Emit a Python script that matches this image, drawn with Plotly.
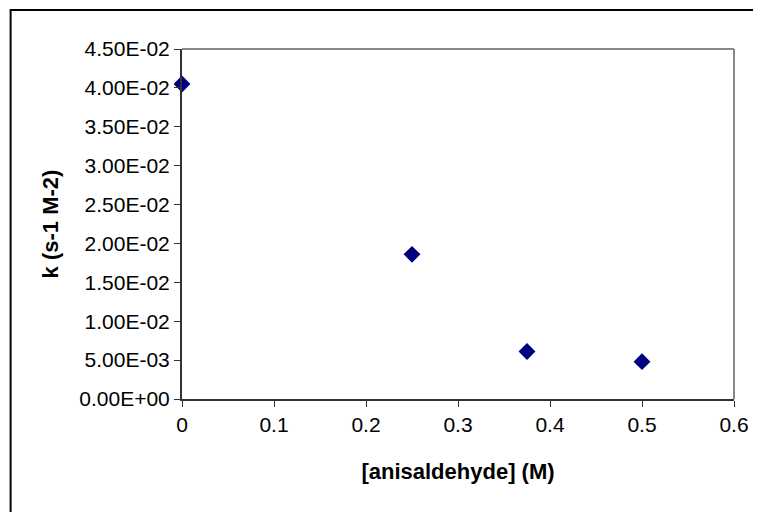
import plotly.graph_objects as go

# anisaldehyde concentration (M) vs rate constant k
conc = [0, 0.25, 0.375, 0.5]
k_vals = [0.0405, 0.0186, 0.0061, 0.0048]

y_ticks = [0, 0.005, 0.01, 0.015, 0.02, 0.025, 0.03, 0.035, 0.04, 0.045]
y_labels = ["%.2E" % v for v in y_ticks]

fig = go.Figure()
fig.add_trace(go.Scatter(x=conc, y=k_vals, mode="markers",
                         marker=dict(symbol="diamond", size=13, color="#000080"),
                         cliponaxis=False, showlegend=False))

# page body has an 8px margin, so the figure is 8px smaller than the window
fig.update_layout(
    width=753, height=504,
    margin=dict(l=174, r=25, t=41, b=113),
    paper_bgcolor="white", plot_bgcolor="white",
    font=dict(family="Liberation Sans, Arial, sans-serif", size=21, color="black"),
    xaxis=dict(range=[0, 0.6], dtick=0.1, tick0=0, showgrid=False, zeroline=False,
               showline=True, linecolor="#333333", linewidth=2,
               ticks="outside", ticklen=6, tickcolor="#333333", tickwidth=1,
               title=dict(text="<b>[anisaldehyde] (M)</b>", font=dict(size=22), standoff=28)),
    yaxis=dict(range=[0, 0.045], tickvals=y_ticks, ticktext=y_labels, showgrid=False,
               zeroline=False, showline=True, linecolor="#333333", linewidth=2,
               ticks="outside", ticklen=6, tickcolor="#333333", tickwidth=1,
               title=dict(text="<b>k (s-1 M-2)</b>", font=dict(size=22), standoff=15)),
)

# gray frame on top and right of plot area
fig.add_shape(type="line", xref="paper", yref="paper", x0=0, x1=1, y0=1, y1=1,
              line=dict(color="#888888", width=2))
fig.add_shape(type="line", xref="paper", yref="paper", x0=1, x1=1, y0=0, y1=1,
              line=dict(color="#888888", width=2))
# outer chart border
fig.add_shape(type="rect", xref="paper", yref="paper", x0=-0.3105, x1=1.2, y0=-0.5, y1=1.1114,
              line=dict(color="black", width=2), layer="below")

fig.write_html("out.html")
